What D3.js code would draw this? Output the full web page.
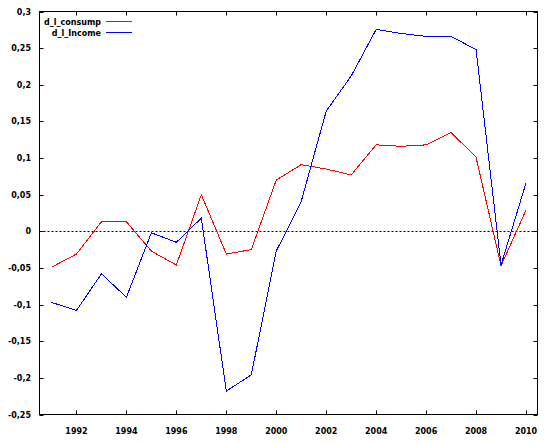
<!DOCTYPE html>
<html>
<head>
<meta charset="utf-8">
<script src="https://cdn.jsdelivr.net/npm/d3@7"></script>
<style>
  body { margin: 0; background: #fff; }
  svg text { font-family: "DejaVu Sans", sans-serif; font-size: 8px; font-weight: bold; fill: #000; }
</style>
</head>
<body>
<div id="vis"></div>
<script>
/* data */
const years = d3.range(1991, 2011);
const consump = [-0.049, -0.031, 0.013, 0.013, -0.027, -0.046, 0.050, -0.031, -0.025, 0.070,
                 0.091, 0.085, 0.077, 0.118, 0.116, 0.118, 0.135, 0.101, -0.047, 0.029];
const income  = [-0.097, -0.108, -0.058, -0.090, -0.002, -0.015, 0.018, -0.218, -0.196, -0.027,
                 0.041, 0.164, 0.212, 0.2755, 0.270, 0.266, 0.266, 0.248, -0.046, 0.066];
const yTicks = [-0.25, -0.2, -0.15, -0.1, -0.05, 0, 0.05, 0.1, 0.15, 0.2, 0.25, 0.3];
const xTicks = [1992, 1994, 1996, 1998, 2000, 2002, 2004, 2006, 2008, 2010];
const seriesNames = ["d_l_consump", "d_l_Income"];
const seriesColors = ["#ff0000", "#0000ff"];

const W = 553, H = 444;
const pL = 39.5, pR = 537.5, pT = 11.5, pB = 414.5;

const x = d3.scaleLinear().domain([1990.52, 2010.46]).range([pL, pR]);
const y = d3.scaleLinear().domain([-0.25, 0.3]).range([pB, pT]);

const fmt = v => String(+v.toFixed(2)).replace(".", ",");

const svg = d3.select("#vis").append("svg")
    .attr("width", W).attr("height", H);

const tk = 4;

/* ticks, mirrored inside the frame */
const g = svg.append("g").attr("stroke", "#000").attr("stroke-width", 1);
yTicks.forEach(v => {
  const yy = Math.round(y(v)) + 0.5;
  g.append("line").attr("x1", pL).attr("x2", pL + tk).attr("y1", yy).attr("y2", yy);
  g.append("line").attr("x1", pR - tk).attr("x2", pR).attr("y1", yy).attr("y2", yy);
});
xTicks.forEach(v => {
  const xx = Math.round(x(v)) + 0.5;
  g.append("line").attr("x1", xx).attr("x2", xx).attr("y1", pB - tk).attr("y2", pB);
  g.append("line").attr("x1", xx).attr("x2", xx).attr("y1", pT).attr("y2", pT + tk);
});

svg.append("g").selectAll("text").data(yTicks).join("text")
    .attr("x", 31).attr("y", d => y(d) + 3)
    .attr("text-anchor", "end")
    .text(fmt);

svg.append("g").selectAll("text").data(xTicks).join("text")
    .attr("x", d => x(d)).attr("y", 434)
    .attr("text-anchor", "middle")
    .text(d => d);

/* zero line */
svg.append("line")
    .attr("x1", pL).attr("x2", pR)
    .attr("y1", Math.round(y(0)) + 0.5).attr("y2", Math.round(y(0)) + 0.5)
    .attr("stroke", "#000").attr("stroke-dasharray", "2,2");

/* series */
const line = d3.line().x((d, i) => x(years[i])).y(d => y(d));
[consump, income].forEach((s, k) => {
  svg.append("path").datum(s)
      .attr("d", line)
      .attr("fill", "none")
      .attr("stroke", seriesColors[k])
      .attr("stroke-width", 1)
      .attr("shape-rendering", "crispEdges");
});

/* frame */
svg.append("rect")
    .attr("x", pL).attr("y", pT)
    .attr("width", pR - pL).attr("height", pB - pT)
    .attr("fill", "none").attr("stroke", "#000");

/* legend */
seriesNames.forEach((n, k) => {
  const ly = 21.5 + k * 11;
  svg.append("text").attr("x", 101).attr("y", ly + 3)
      .attr("text-anchor", "end").text(n);
  svg.append("line").attr("x1", 106).attr("x2", 132)
      .attr("y1", ly).attr("y2", ly)
      .attr("stroke", seriesColors[k]);
});
</script>
</body>
</html>
